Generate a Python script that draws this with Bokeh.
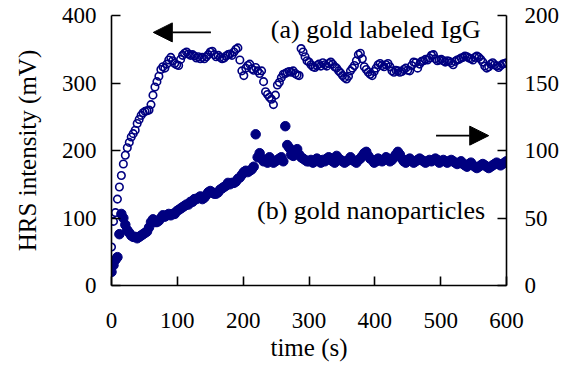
from bokeh.plotting import figure
from bokeh.models import Range1d, LinearAxis, Label, Arrow, NormalHead, FixedTicker
from bokeh.embed import file_html
from bokeh.resources import INLINE

time_s = [0, 3, 6, 9, 12, 15, 18, 21, 24, 27, 30, 33, 36, 39, 42, 45, 48, 51, 54, 57,
          60, 63, 66, 69, 72, 75, 78, 81, 84, 87, 90, 93, 96, 99, 102, 105, 108, 111, 114, 117,
          120, 123, 126, 129, 132, 135, 138, 141, 144, 147, 150, 153, 156, 159, 162, 165, 168, 171, 174, 177,
          180, 183, 186, 189, 192, 195, 198, 201, 204, 207, 210, 213, 216, 219, 222, 225, 228, 231, 234, 237,
          240, 243, 246, 249, 252, 255, 258, 261, 264, 267, 270, 273, 276, 279, 282, 285, 288, 291, 294, 297,
          300, 303, 306, 309, 312, 315, 318, 321, 324, 327, 330, 333, 336, 339, 342, 345, 348, 351, 354, 357,
          360, 363, 366, 369, 372, 375, 378, 381, 384, 387, 390, 393, 396, 399, 402, 405, 408, 411, 414, 417,
          420, 423, 426, 429, 432, 435, 438, 441, 444, 447, 450, 453, 456, 459, 462, 465, 468, 471, 474, 477,
          480, 483, 486, 489, 492, 495, 498, 501, 504, 507, 510, 513, 516, 519, 522, 525, 528, 531, 534, 537,
          540, 543, 546, 549, 552, 555, 558, 561, 564, 567, 570, 573, 576, 579, 582, 585, 588, 591, 594, 597,
          600]

# (a) gold labeled IgG, HRS intensity (mV), left axis
igg_mV = [57, 95, 108, 128, 146, 163, 180, 193, 204, 212,
          220, 225, 230, 240, 246, 252, 256, 258, 259, 260,
          268, 282, 294, 302, 310, 320, 324, 322, 328, 334,
          338, 333, 329, 327, 326, 335, 341, 344, 346, 343,
          341, 342, 340, 337, 339, 336, 338, 336, 339, 342,
          346, 347, 342, 339, 341, 338, 336, 337, 340, 342,
          343, 341, 346, 350, 352, 334, 318, 311, 322, 326,
          328, 321, 319, 323, 318, 314, 318, 302, 287, 283,
          279, 276, 268, 282, 297, 301, 308, 313, 314, 316,
          317, 316, 318, 314, 312, 311, 351, 346, 339, 333,
          331, 327, 324, 323, 326, 328, 325, 330, 327, 325,
          329, 331, 328, 324, 322, 318, 315, 311, 308, 306,
          310, 318, 322, 326, 333, 342, 344, 336, 324, 320,
          316, 313, 311, 317, 322, 327, 329, 326, 324, 327,
          329, 324, 318, 316, 319, 318, 316, 317, 320, 322,
          319, 318, 326, 331, 330, 322, 328, 332, 333, 335,
          334, 337, 341, 342, 336, 333, 334, 335, 333, 331,
          333, 332, 330, 327, 332, 334, 335, 337, 338, 340,
          339, 337, 336, 334, 338, 340, 338, 335, 331, 325,
          322, 324, 328, 330, 327, 325, 323, 326, 328, 329,
          330]

# (b) gold nanoparticles, right axis
nano_mV = [10, 15, 19, 21, 38, 53, 50, 45, 41, 39,
           37, 36, 36, 35, 36, 37, 38, 39, 40, 43,
           47, 49, 47, 47, 48, 50, 52, 51, 52, 53,
           52, 53, 53, 55, 56, 57, 58, 59, 60, 60,
           62, 62, 64, 64, 65, 66, 64, 65, 67, 69,
           70, 69, 68, 68, 69, 71, 72, 73, 74, 76,
           75, 76, 76, 77, 79, 80, 82, 84, 85, 84,
           85, 86, 88, 112, 95, 98, 94, 92, 93, 91,
           95, 93, 91, 92, 93, 94, 95, 92, 118, 104,
           102, 97, 96, 98, 101, 97, 95, 94, 93, 92,
           92, 93, 91, 92, 94, 92, 91, 93, 92, 94,
           95, 93, 92, 91, 96, 94, 93, 92, 91, 92,
           93, 95, 93, 92, 91, 93, 94, 96, 98, 99,
           96, 94, 93, 91, 92, 94, 93, 92, 93, 95,
           94, 92, 93, 95, 97, 99, 97, 94, 92, 91,
           93, 94, 92, 91, 92, 93, 94, 93, 92, 91,
           92, 93, 92, 93, 94, 93, 91, 92, 93, 92,
           91, 92, 93, 92, 91, 90, 91, 92, 90, 89,
           88, 90, 91, 89, 88, 87, 88, 89, 90, 89,
           88, 87, 88, 89, 90, 91, 90, 89, 90, 91,
           92]

x_ticks = [0, 100, 200, 300, 400, 500, 600]
left_ticks = [0, 100, 200, 300, 400]
right_ticks = [0, 50, 100, 150, 200]

FONT = "Liberation Serif"
NAVY = "#000080"

p = figure(width=565, height=369, output_backend="svg", toolbar_location=None,
           x_range=Range1d(0, 600), y_range=Range1d(0, 400),
           min_border_left=111, min_border_right=59, min_border_top=15, min_border_bottom=84)
p.extra_y_ranges = {"right": Range1d(0, 200)}
p.outline_line_color = None
p.xgrid.visible = False
p.ygrid.visible = False
p.background_fill_color = "white"

p.scatter(time_s, igg_mV, marker="circle", size=7.5, fill_color=None,
          line_color=NAVY, line_width=1.6)
p.scatter(time_s, nano_mV, marker="circle", size=9.5, fill_color=NAVY,
          line_color=NAVY, y_range_name="right")

right_axis = LinearAxis(y_range_name="right")
p.add_layout(right_axis, "right")

for ax in [p.xaxis[0], p.yaxis[0], right_axis]:
    ax.axis_line_color = "black"
    ax.axis_line_width = 1.6
    ax.major_tick_line_color = "black"
    ax.major_tick_line_width = 1.6
    ax.major_tick_in = 9
    ax.major_tick_out = 0
    ax.minor_tick_line_color = None
    ax.major_label_text_font = FONT
    ax.major_label_text_font_size = "23px"
    ax.major_label_text_color = "black"
    ax.axis_label_text_font = FONT
    ax.axis_label_text_font_size = "25px"
    ax.axis_label_text_font_style = "normal"
    ax.axis_label_text_color = "black"

p.xaxis[0].ticker = FixedTicker(ticks=x_ticks)
p.yaxis[0].ticker = FixedTicker(ticks=left_ticks)
right_axis.ticker = FixedTicker(ticks=right_ticks)

p.xaxis[0].axis_label = "time (s)"
p.xaxis[0].major_label_standoff = 27
p.xaxis[0].axis_label_standoff = 3
p.yaxis[0].axis_label = "HRS intensity (mV)"
p.yaxis[0].major_label_standoff = 15
p.yaxis[0].axis_label_standoff = 18
right_axis.major_label_standoff = 18

p.add_layout(Label(x=242, y=379, text="(a) gold labeled IgG", text_font=FONT,
                   text_font_size="26px", text_color="black", text_baseline="alphabetic"))
p.add_layout(Label(x=221, y=111, text="(b) gold nanoparticles", text_font=FONT,
                   text_font_size="26px", text_color="black", text_baseline="alphabetic"))

p.add_layout(Arrow(end=NormalHead(size=19, fill_color="black", line_color="black"),
                   x_start=151, y_start=375, x_end=63.5, y_end=375,
                   line_color="black", line_width=1.6))
p.add_layout(Arrow(end=NormalHead(size=19, fill_color="black", line_color="black"),
                   x_start=493, y_start=222, x_end=573, y_end=222,
                   line_color="black", line_width=1.6))

open("out.html", "w").write(file_html(p, INLINE))
